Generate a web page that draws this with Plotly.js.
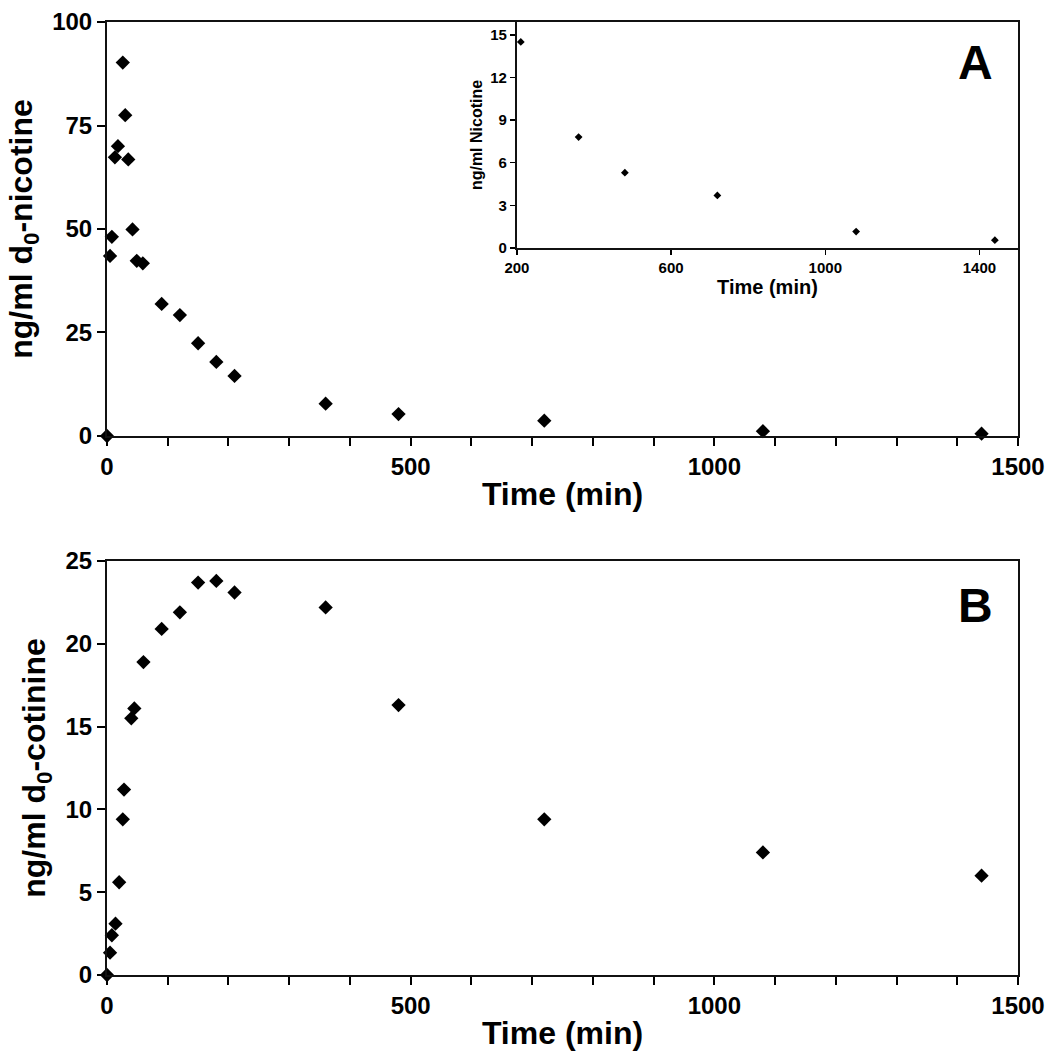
<!DOCTYPE html>
<html>
<head>
<meta charset="utf-8">
<script src="https://cdn.plot.ly/plotly-3.0.1.min.js"></script>
<style>html,body{margin:0;padding:0;background:#fff;}#chart{width:1050px;height:1059px;}</style>
</head>
<body>
<div id="chart"></div>
<script>
// Panel A: d0-nicotine (ng/ml) vs time (min)
const nicTime = [0, 5, 8, 13, 18, 26, 30, 35, 42, 49, 59, 90, 120, 150, 180, 210, 360, 480, 720, 1080, 1440];
const nicConc = [0, 43.5, 48.1, 67.3, 70.0, 90.2, 77.5, 66.8, 49.9, 42.3, 41.7, 31.9, 29.2, 22.4, 17.9, 14.5, 7.8, 5.3, 3.7, 1.15, 0.55];
// Panel B: d0-cotinine (ng/ml) vs time (min)
const cotTime = [0, 5, 8, 14, 20, 26, 28, 40, 45, 60, 90, 120, 150, 180, 210, 360, 480, 720, 1080, 1440];
const cotConc = [0, 1.35, 2.4, 3.1, 5.6, 9.4, 11.2, 15.5, 16.1, 18.9, 20.9, 21.9, 23.7, 23.8, 23.1, 22.2, 16.3, 9.4, 7.4, 6.0];
// Inset: nicotine from 200 min onwards
const insetStart = 200;
const insetTime = nicTime.filter(t => t >= insetStart);
const insetConc = nicConc.filter((v, i) => nicTime[i] >= insetStart);

const mainXTicks = [0, 500, 1000, 1500];
const nicYTicks = [0, 25, 50, 75, 100];
const cotYTicks = [0, 5, 10, 15, 20, 25];
const insetXTicks = [200, 600, 1000, 1400];
const insetYTicks = [0, 3, 6, 9, 12, 15];

const FF = '"Liberation Sans", Arial, sans-serif';
const bold = (s) => ({family: FF, size: s, color: '#000', weight: 'bold'});

const bigMarker = {symbol: 'diamond', size: 11, color: '#000'};
const smallMarker = {symbol: 'diamond', size: 6, color: '#000'};

const traces = [
  {x: nicTime, y: nicConc, xaxis: 'x', yaxis: 'y', type: 'scatter', mode: 'markers', marker: bigMarker, cliponaxis: false},
  {x: cotTime, y: cotConc, xaxis: 'x2', yaxis: 'y2', type: 'scatter', mode: 'markers', marker: bigMarker, cliponaxis: false},
  {x: insetTime, y: insetConc, xaxis: 'x3', yaxis: 'y3', type: 'scatter', mode: 'markers', marker: smallMarker, cliponaxis: false}
];

function mainX(anchor) {
  return {
    anchor: anchor, domain: [0, 1], range: [0, 1500],
    tickmode: 'array', tickvals: mainXTicks, ticktext: mainXTicks.map(String),
    ticks: 'outside', ticklen: 8, tickwidth: 2, tickcolor: '#000',
    minor: {tickmode: 'linear', tick0: 0, dtick: 100, ticks: 'outside', ticklen: 8, tickwidth: 2, tickcolor: '#000', showgrid: false},
    showline: true, linecolor: '#111', linewidth: 2, mirror: true,
    showgrid: false, zeroline: false,
    tickfont: bold(24),
    title: {text: 'Time (min)', font: bold(32), standoff: 4}
  };
}
function mainY(anchor, domain, range, ticks, title) {
  return {
    anchor: anchor, domain: domain, range: range,
    tickmode: 'array', tickvals: ticks, ticktext: ticks.map(String),
    ticks: 'outside', ticklen: 8, tickwidth: 2, tickcolor: '#000',
    showline: true, linecolor: '#111', linewidth: 2, mirror: true,
    showgrid: false, zeroline: false,
    tickfont: bold(24),
    title: {text: title, font: bold(32), standoff: 10}
  };
}

const layout = {
  width: 1050, height: 1059,
  margin: {l: 107, r: 32, t: 22, b: 84},
  paper_bgcolor: '#fff', plot_bgcolor: '#fff',
  showlegend: false,
  font: {family: FF, color: '#000'},
  xaxis: mainX('y'),
  yaxis: mainY('x', [0.5656, 1], [0, 100], nicYTicks, 'ng/ml d<sub>0</sub>-nicotine'),
  xaxis2: mainX('y2'),
  yaxis2: mainY('x2', [0, 0.4344], [0, 25], cotYTicks, 'ng/ml d<sub>0</sub>-cotinine'),
  xaxis3: {
    anchor: 'y3', domain: [0.450, 1], range: [200, 1500],
    tickmode: 'array', tickvals: insetXTicks, ticktext: insetXTicks.map(String),
    ticks: 'outside', ticklen: 5, tickwidth: 1.5, tickcolor: '#000',
    showline: true, linecolor: '#111', linewidth: 2,
    showgrid: false, zeroline: false,
    tickfont: bold(15),
    title: {text: 'Time (min)', font: bold(20), standoff: 2}
  },
  yaxis3: {
    anchor: 'x3', domain: [0.7629, 1], range: [0, 15.9],
    tickmode: 'array', tickvals: insetYTicks, ticktext: insetYTicks.map(String),
    ticks: 'outside', ticklen: 5, tickwidth: 1.5, tickcolor: '#000',
    showline: true, linecolor: '#111', linewidth: 2,
    showgrid: false, zeroline: false,
    tickfont: bold(15),
    title: {text: 'ng/ml Nicotine', font: bold(16), standoff: 4}
  },
  annotations: [
    {text: 'A', xref: 'paper', yref: 'paper', x: 0.953, y: 0.957, xanchor: 'center', yanchor: 'middle', showarrow: false, font: bold(48)},
    {text: 'B', xref: 'paper', yref: 'paper', x: 0.953, y: 0.388, xanchor: 'center', yanchor: 'middle', showarrow: false, font: bold(48)}
  ]
};

Plotly.newPlot('chart', traces, layout, {displayModeBar: false, staticPlot: true});
</script>
</body>
</html>
